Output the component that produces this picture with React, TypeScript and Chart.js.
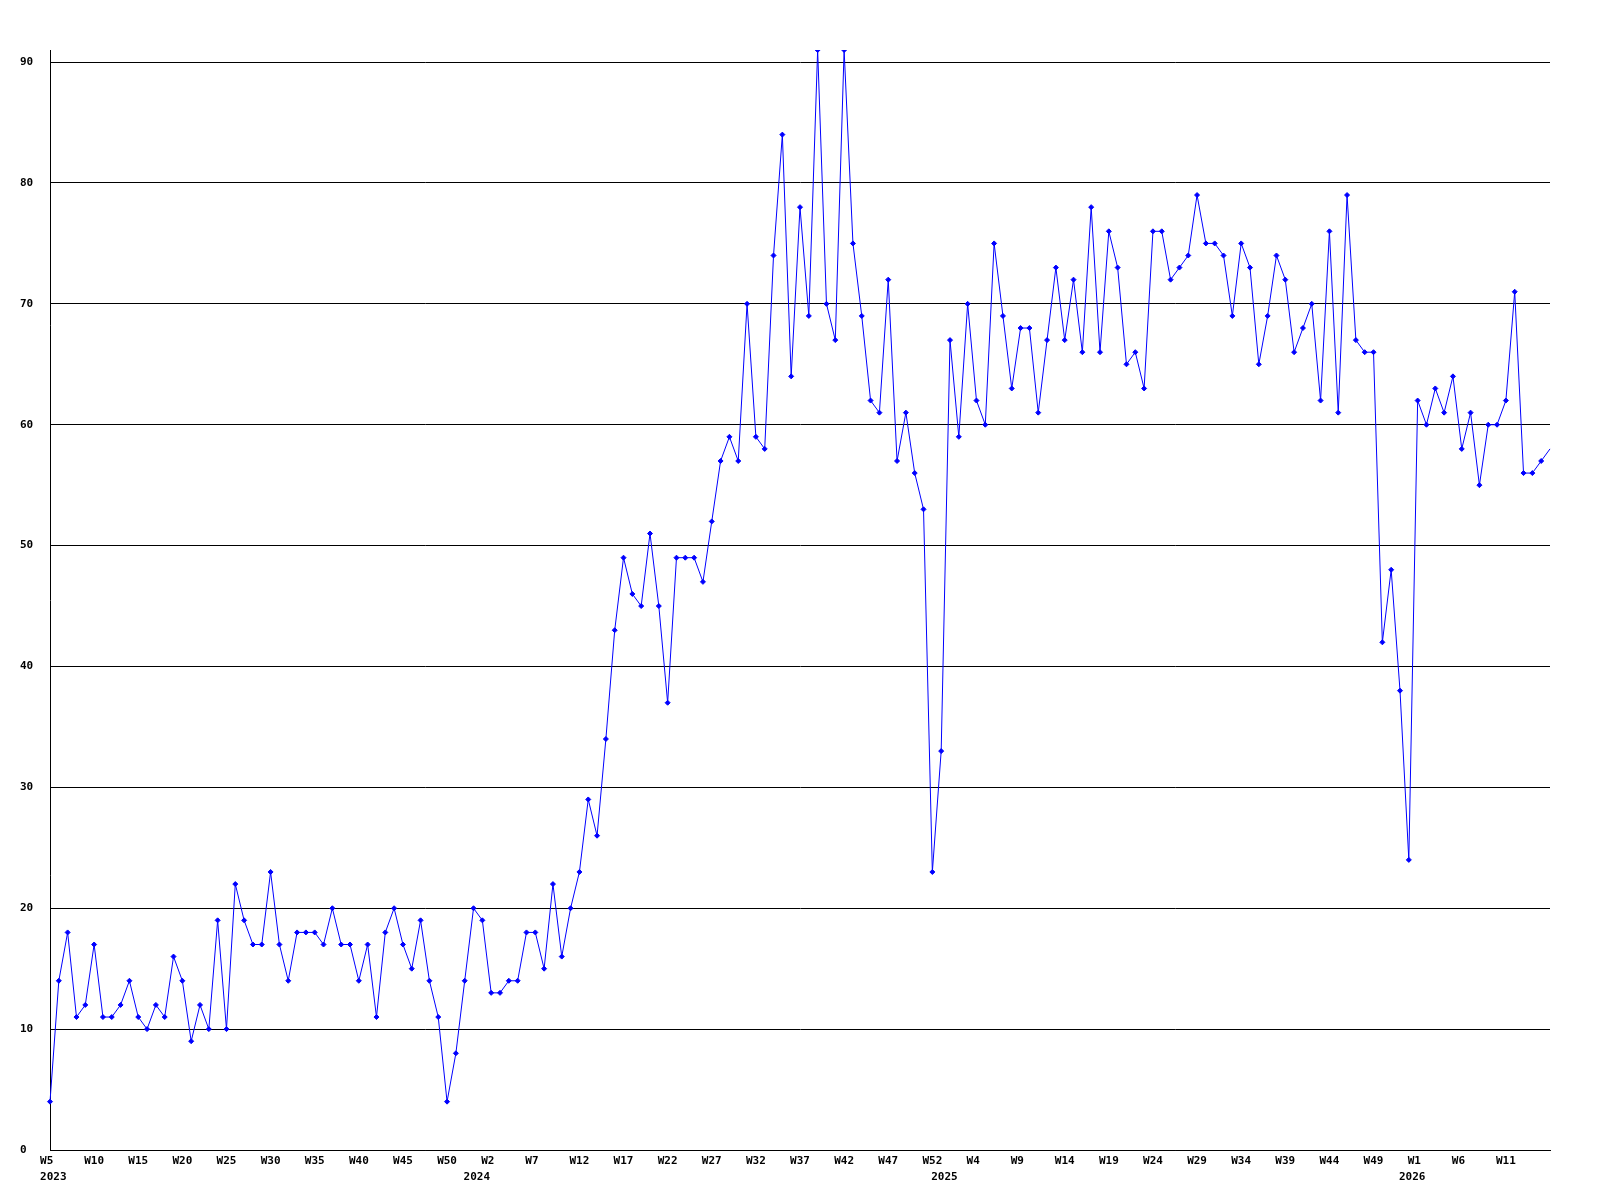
import React, { useEffect, useRef } from 'react';
import { Chart, registerables } from 'chart.js';

Chart.register(...registerables);

// Week categories: each year runs from its first to its last plotted week
const years = ['2023', '2024', '2025', '2026'];
const firstWeeks = [5, 0, 0, 0];
const lastWeeks = [52, 52, 52, 16];

// Weekly values (one per week)
const values2023 = [
  4, 14, 18, 11, 12, 17, 11, 11, 12, 14, 11, 10, 12, 11, 16, 14, 9, 12, 10, 19,
  10, 22, 19, 17, 17, 23, 17, 14, 18, 18, 18, 17, 20, 17, 17, 14, 17, 11, 18, 20,
  17, 15, 19, 14, 11, 4, 8, 14,
];
const values2024 = [
  20, 19, 13, 13, 14, 14, 18, 18, 15, 22, 16, 20, 23, 29, 26, 34, 43, 49, 46, 45,
  51, 45, 37, 49, 49, 49, 47, 52, 57, 59, 57, 70, 59, 58, 74, 84, 64, 78, 69, 91,
  70, 67, 91, 75, 69, 62, 61, 72, 57, 61, 56, 53, 23,
];
const values2025 = [
  33, 67, 59, 70, 62, 60, 75, 69, 63, 68, 68, 61, 67, 73, 67, 72, 66, 78, 66, 76,
  73, 65, 66, 63, 76, 76, 72, 73, 74, 79, 75, 75, 74, 69, 75, 73, 65, 69, 74, 72,
  66, 68, 70, 62, 76, 61, 79, 67, 66, 66, 42, 48, 38,
];
const values2026 = [24, 62, 60, 63, 61, 64, 58, 61, 55, 60, 60, 62, 71, 56, 56, 57, 58];

// Y axis
const yMin = 0;
const yMax = 91;
const yTickValues = [0, 10, 20, 30, 40, 50, 60, 70, 80, 90];
const labelEvery = 5;

type Cat = { week: number; year: string; yearStart: boolean };

function buildCategories(): Cat[] {
  const out: Cat[] = [];
  years.forEach((y, i) => {
    for (let w = firstWeeks[i]; w <= lastWeeks[i]; w++) {
      out.push({ week: w, year: y, yearStart: w === firstWeeks[i] });
    }
  });
  return out;
}

export default function App() {
  const ref = useRef<HTMLCanvasElement | null>(null);

  useEffect(() => {
    const canvas = ref.current;
    if (!canvas) return;
    const categories = buildCategories();
    const values = [...values2023, ...values2024, ...values2025, ...values2026];
    const lastIdx = values.length - 1;

    const FONT = {
      family: '"DejaVu Sans Mono", "Liberation Mono", monospace',
      size: 11,
      weight: 'bold' as const,
      lineHeight: '16px',
    };

    const chart = new Chart(canvas, {
      type: 'line',
      data: {
        labels: categories.map((c) => `W${c.week} ${c.year}`),
        datasets: [
          {
            data: values,
            borderColor: '#0000ff',
            backgroundColor: '#0000ff',
            borderWidth: 1,
            tension: 0,
            fill: false,
            pointStyle: 'rectRot',
            pointRadius: (ctx: any) => (ctx.dataIndex === lastIdx ? 0 : 2.5),
            pointBackgroundColor: '#0000ff',
            pointBorderColor: '#0000ff',
            pointBorderWidth: 1,
          },
        ],
      },
      options: {
        animation: false,
        responsive: false,
        maintainAspectRatio: false,
        devicePixelRatio: 1,
        events: [],
        layout: { padding: { left: 20, right: 50, top: 50, bottom: 0 } },
        plugins: {
          legend: { display: false },
          tooltip: { enabled: false },
          title: { display: false },
        },
        scales: {
          x: {
            type: 'category',
            offset: false,
            grid: { display: false, drawTicks: false },
            border: { display: true, color: '#000000', width: 1 },
            ticks: {
              autoSkip: false,
              maxRotation: 0,
              minRotation: 0,
              padding: 3,
              color: '#000000',
              font: FONT,
              callback: (_v: any, index: number) => {
                const c = categories[index];
                if (!c) return '';
                const wk =
                  index % labelEvery === 0 && index !== lastIdx ? `W${c.week}`.padEnd(3, ' ') : '';
                if (c.yearStart) return [wk, ' ' + c.year];
                return wk;
              },
            },
            afterFit: (s: any) => {
              s.height = 50;
            },
          },
          y: {
            min: yMin,
            max: yMax,
            grid: { color: '#000000', lineWidth: 1, drawTicks: false },
            border: { display: true, color: '#000000', width: 1 },
            ticks: {
              crossAlign: 'far',
              padding: 0,
              color: '#000000',
              font: FONT,
            },
            afterBuildTicks: (s: any) => {
              s.ticks = yTickValues.map((v) => ({ value: v }));
            },
            afterFit: (s: any) => {
              s.width = 30;
            },
          },
        },
      } as any,
    });

    return () => chart.destroy();
  }, []);

  return (
    <div style={{ position: 'absolute', left: 0, top: 0, width: 1600, height: 1200, background: '#ffffff' }}>
      <canvas ref={ref} width={1600} height={1200} style={{ display: 'block', width: 1600, height: 1200 }} />
    </div>
  );
}
